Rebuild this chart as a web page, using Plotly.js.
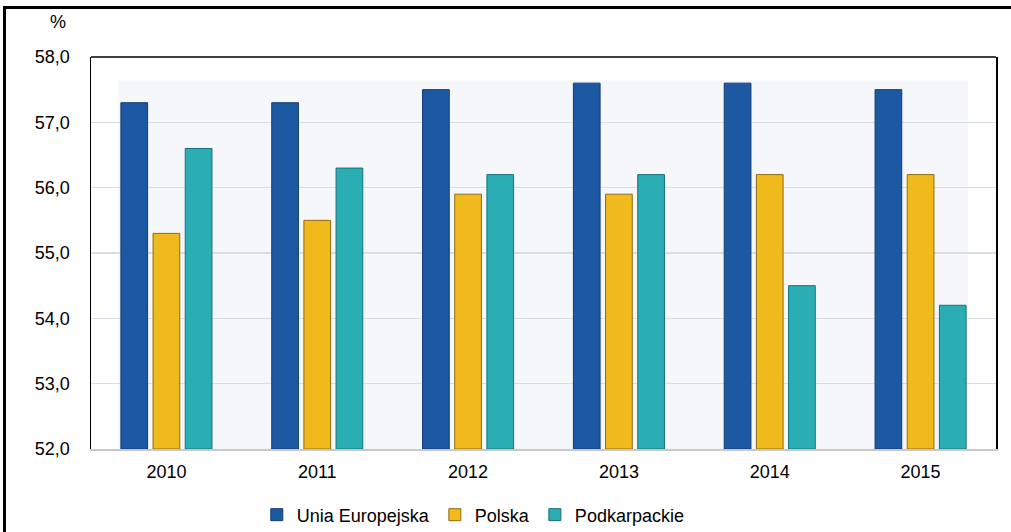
<!DOCTYPE html>
<html>
<head>
<meta charset="utf-8">
<script src="https://cdn.plot.ly/plotly-3.0.1.min.js"></script>
<style>
  html, body { margin: 0; padding: 0; background: #fff; overflow: hidden; }
  #wrap { position: relative; width: 1011px; height: 532px; overflow: hidden; }
  #chart { width: 1011px; height: 532px; }
  #frame { position: absolute; left: 3px; top: 6px; width: 1008px; height: 526px;
           border-left: 3px solid #000; border-top: 3px solid #000;
           box-sizing: border-box; pointer-events: none; }
</style>
</head>
<body>
<div id="wrap">
  <div id="chart"></div>
  <div id="frame"></div>
</div>
<script>
const years = ['2010', '2011', '2012', '2013', '2014', '2015'];
const seriesNames = ['Unia Europejska', 'Polska', 'Podkarpackie'];
const uniaEuropejska = [57.3, 57.3, 57.5, 57.6, 57.6, 57.5];
const polska = [55.3, 55.5, 55.9, 55.9, 56.2, 56.2];
const podkarpackie = [56.6, 56.3, 56.2, 56.2, 54.5, 54.2];
const colors = ['#1d58a3', '#f0b91c', '#2aaeb4'];
const edgeColors = ['#133c70', '#8f6c12', '#17717a'];

const values = [uniaEuropejska, polska, podkarpackie];
const traces = values.map((v, i) => ({
  type: 'bar',
  name: seriesNames[i],
  x: years,
  y: v.map(d => d - 52),
  base: 52,
  marker: { color: colors[i], line: { color: edgeColors[i], width: 1 } },
  hoverinfo: 'x+name'
}));

const fontFam = '"Liberation Sans", Arial, "DejaVu Sans", sans-serif';

const layout = {
  width: 1011,
  height: 532,
  margin: { l: 91, r: 15, t: 57, b: 83, autoexpand: false },
  paper_bgcolor: '#ffffff',
  plot_bgcolor: '#ffffff',
  separators: ', ',
  font: { family: fontFam, size: 18, color: '#000' },
  barmode: 'group',
  bargap: 0.36,
  bargroupgap: 0.17,
  showlegend: true,
  legend: {
    orientation: 'h',
    xref: 'container', yref: 'container',
    x: 0.254, xanchor: 'left',
    y: 0.032, yanchor: 'middle',
    itemgap: 31,
    font: { family: fontFam, size: 18, color: '#000' },
    bgcolor: 'rgba(0,0,0,0)'
  },
  xaxis: {
    type: 'category',
    showgrid: false,
    showline: true,
    linecolor: '#c8c8c8',
    linewidth: 2,
    ticks: '',
    ticklabelstandoff: 5,
    tickfont: { family: fontFam, size: 18, color: '#000' },
    zeroline: false,
    fixedrange: true
  },
  yaxis: {
    range: [52, 58],
    dtick: 1,
    tick0: 52,
    tickformat: '.1f',
    showgrid: true,
    gridcolor: '#d8dde4',
    gridwidth: 1.5,
    showline: true,
    mirror: true,
    linecolor: '#000',
    linewidth: 1.5,
    ticks: '',
    ticklabelstandoff: 16,
    tickfont: { family: fontFam, size: 18, color: '#000' },
    zeroline: false,
    fixedrange: true
  },
  shapes: [
    { type: 'rect', xref: 'paper', yref: 'paper', x0: 0.03, x1: 0.969, y0: 0, y1: 0.94,
      fillcolor: '#f6f7fb', line: { width: 0 }, layer: 'below' },
    { type: 'line', xref: 'paper', yref: 'paper', x0: 0, x1: 1, y0: 1, y1: 1,
      line: { color: '#000', width: 1.5 } }
  ],
  annotations: [
    { text: '%', xref: 'paper', yref: 'paper', x: -0.025, y: 1.09,
      xanchor: 'right', yanchor: 'middle', showarrow: false,
      font: { family: fontFam, size: 18, color: '#000' } }
  ]
};

Plotly.newPlot('chart', traces, layout, { displayModeBar: false, staticPlot: true });
</script>
</body>
</html>
